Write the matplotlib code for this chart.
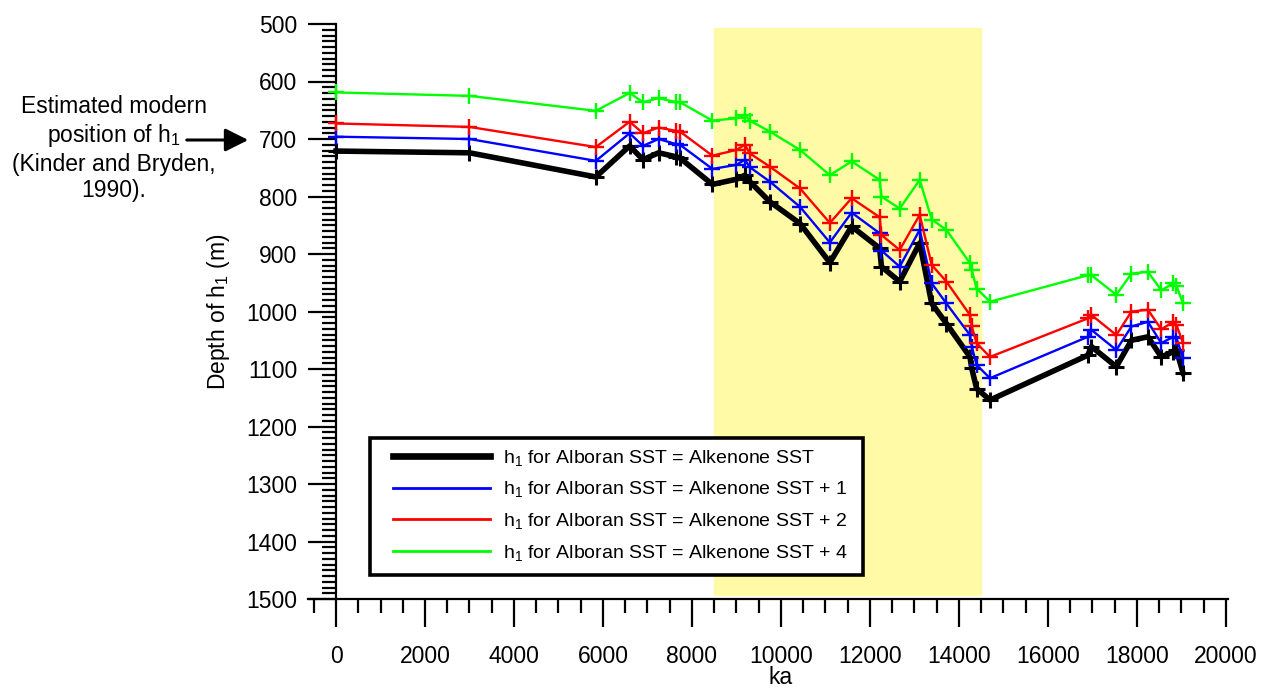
import matplotlib
matplotlib.use("Agg")
import matplotlib.pyplot as plt
from matplotlib.lines import Line2D
from matplotlib.patches import Rectangle
from matplotlib.ticker import MultipleLocator

plt.rcParams['font.family'] = ['Liberation Sans', 'DejaVu Sans']
plt.rcParams['mathtext.fontset'] = 'custom'
plt.rcParams['mathtext.rm'] = 'Liberation Sans'
plt.rcParams['mathtext.it'] = 'Liberation Sans'

# age (ka axis) of each sample
age = [0, 3000, 5840, 6600, 6900, 7250, 7650, 7730, 8460, 9000, 9190, 9300,
       9750, 10430, 11100, 11590, 12220, 12260, 12670, 13120, 13390, 13720,
       14250, 14290, 14400, 14700, 16900, 16980, 17540, 17880, 18250, 18550,
       18820, 18890, 19040]

# depth of h1 (m) for each SST offset
h1_sst0 = [721, 724, 766, 712, 736, 724, 731, 733, 779, 770, 763, 774,
           809, 847, 915, 852, 890, 922, 948, 881, 986, 1021,
           1079, 1099, 1134, 1154, 1076, 1061, 1096, 1050, 1044, 1079,
           1070, 1067, 1107]
h1_sst1 = [696, 700, 738, 690, 712, 700, 709, 710, 752, 745, 736, 749,
           774, 818, 880, 828, 864, 894, 922, 858, 951, 986,
           1041, 1061, 1093, 1116, 1044, 1032, 1067, 1026, 1018, 1055,
           1044, 1046, 1081]
h1_sst2 = [673, 679, 714, 670, 690, 680, 686, 687, 729, 719, 710, 725,
           748, 786, 846, 803, 836, 867, 893, 832, 919, 948,
           1006, 1026, 1055, 1079, 1012, 1006, 1041, 1000, 997, 1031,
           1018, 1023, 1055]
h1_sst4 = [619, 625, 651, 620, 636, 629, 636, 636, 668, 664, 658, 668,
           687, 719, 763, 739, 771, 800, 821, 771, 840, 858,
           916, 928, 960, 983, 937, 937, 971, 934, 931, 963,
           951, 955, 986]

labels = ['h$_1$ for Alboran SST = Alkenone SST',
          'h$_1$ for Alboran SST = Alkenone SST + 1',
          'h$_1$ for Alboran SST = Alkenone SST + 2',
          'h$_1$ for Alboran SST = Alkenone SST + 4']

fig = plt.figure(figsize=(12.65, 6.87), dpi=100)
ax = fig.add_axes([308 / 1265, 1 - 599 / 687, 920 / 1265, 575 / 687])

# highlighted interval
ax.axvspan(8500, 14500, ymin=0.007, ymax=0.993, color='#fffaa5', zorder=0)

ax.plot(age, h1_sst0, color='black', lw=4, marker='+', ms=11, mew=2.2, zorder=3)
ax.plot(age, h1_sst1, color='#0000ff', lw=1.7, marker='+', ms=11, mew=1.7, zorder=4)
ax.plot(age, h1_sst2, color='#ff0000', lw=1.7, marker='+', ms=11, mew=1.7, zorder=4)
ax.plot(age, h1_sst4, color='#00ff00', lw=1.7, marker='+', ms=11, mew=1.7, zorder=4)

ax.set_xlim(-630, 20050)
ax.set_ylim(1500, 500)
ax.spines['top'].set_visible(False)
ax.spines['right'].set_visible(False)
ax.spines['left'].set_position(('data', 0))
ax.spines['left'].set_linewidth(1.6)
ax.spines['bottom'].set_linewidth(1.6)

ax.xaxis.set_major_locator(MultipleLocator(2000))
ax.xaxis.set_minor_locator(MultipleLocator(500))
ax.yaxis.set_major_locator(MultipleLocator(100))
ax.yaxis.set_minor_locator(MultipleLocator(10))
ax.tick_params(axis='x', which='major', direction='out', length=20, width=1.6,
               labelsize=16.5, pad=13)
ax.tick_params(axis='x', which='minor', direction='out', length=10, width=1.6)
ax.tick_params(axis='y', which='major', direction='out', length=20, width=1.6,
               labelsize=16.5, pad=8)
ax.tick_params(axis='y', which='minor', direction='out', length=10, width=1.6)

ax.set_xlabel('ka', fontsize=16.5)
ax.xaxis.set_label_coords(0.514, -0.116)
ax.set_ylabel('Depth of h$_1$ (m)', fontsize=16.5)
ax.yaxis.set_label_coords(-0.083, 0.5)

# legend box
ax.add_patch(Rectangle((0.0674, 0.0417), 0.536, 0.238, transform=ax.transAxes,
                       facecolor='white', edgecolor='black', lw=2.6, zorder=5))
handles = [Line2D([], [], color='black', lw=4.8),
           Line2D([], [], color='#0000ff', lw=2),
           Line2D([], [], color='#ff0000', lw=2),
           Line2D([], [], color='#00ff00', lw=2)]
leg = ax.legend(handles, labels, loc='upper left', bbox_to_anchor=(0.0924, 0.263),
                fontsize=14, frameon=False, handlelength=5.0, handletextpad=0.67,
                borderpad=0, labelspacing=0.6, borderaxespad=0)
leg.set_zorder(6)

fig.text(114 / 1265, 1 - 148.5 / 687,
         'Estimated modern\nposition of h$_1$\n(Kinder and Bryden,\n1990).',
         ha='center', va='center', multialignment='center', fontsize=16.5,
         linespacing=1.2)
fig.add_artist(plt.Annotation('', xy=(251 / 1265, 1 - 140 / 687),
                              xytext=(184 / 1265, 1 - 140 / 687),
                              xycoords='figure fraction',
                              arrowprops=dict(arrowstyle='-|>,head_length=0.5,head_width=0.25',
                                              lw=2.2, color='black', mutation_scale=28)))

fig.savefig('out.png', dpi=100)
